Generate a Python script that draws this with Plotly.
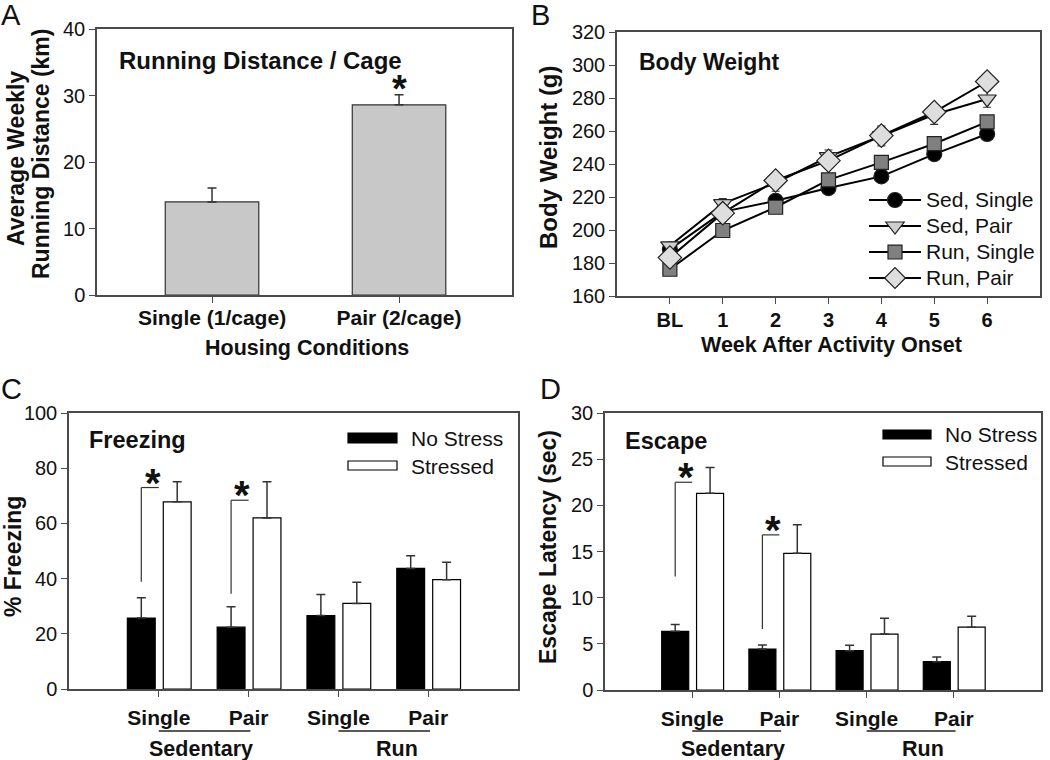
import plotly.graph_objects as go

W, H = 1050, 760
FONT = "Arial, Liberation Sans, Helvetica, sans-serif"

# ---------------- Panel A: running distance ----------------
housing = ["Single (1/cage)", "Pair (2/cage)"]
run_distance = [14.0, 28.6]
run_distance_err = [2.1, 1.5]

# ---------------- Panel B: body weight ----------------
week_labels = ["BL", "1", "2", "3", "4", "5", "6"]
sed_single = [188.3, 211.0, 217.7, 225.4, 232.5, 246.0, 258.2]
sed_single_err = [2, 2, 2, 2, 2, 2, 2]
sed_pair = [190.4, 216.0, 228.5, 244.5, 257.0, 270.0, 279.4]
sed_pair_err = [2, 3, 5, 4, 6, 6, 5]
run_single = [176.2, 199.7, 213.8, 230.4, 241.0, 252.3, 265.5]
run_single_err = [2, 2, 2, 2, 2, 2, 2]
run_pair = [183.3, 210.2, 230.0, 242.0, 257.2, 271.5, 290.0]
run_pair_err = [2, 2, 2, 3, 5, 3, 3]

# ---------------- Panel C / D: freezing & escape ----------------
group_labels = ["Single", "Pair", "Single", "Pair"]
freeze_nostress = [25.7, 22.4, 26.6, 43.7]
freeze_nostress_err = [7.4, 7.4, 7.6, 4.6]
freeze_stressed = [67.8, 62.0, 31.0, 39.6]
freeze_stressed_err = [7.3, 13.1, 7.7, 6.3]
escape_nostress = [6.35, 4.44, 4.26, 3.07]
escape_nostress_err = [0.75, 0.43, 0.6, 0.5]
escape_stressed = [21.3, 14.8, 6.06, 6.8]
escape_stressed_err = [2.8, 3.1, 1.7, 1.2]
# significance brackets: (category index, bracket bottom, bracket top)
freeze_sig = [(0, 38.9, 73.0), (1, 34.5, 68.4)]
escape_sig = [(0, 12.3, 22.5), (1, 6.6, 16.8)]


def px(x):
    return x / W


def py(y):
    return 1 - y / H


LINE = "#4a4a4a"
TXT = "#111111"


def axis(domain, rng, anchor, fsize=20, **kw):
    d = dict(domain=domain, range=rng, anchor=anchor, showline=True, mirror=True,
             linecolor=LINE, linewidth=1.5, ticks="outside", ticklen=6,
             tickcolor=LINE, tickwidth=1.2, showgrid=False, zeroline=False,
             tickfont=dict(family=FONT, size=fsize, color=TXT), fixedrange=True)
    d.update(kw)
    return d


fig = go.Figure()

# Panel A
fig.add_trace(go.Bar(
    x=list(range(len(housing))), y=run_distance, width=0.5,
    marker=dict(color="#c8c8c8", line=dict(color="#333333", width=1.2)),
    error_y=dict(type="data", array=run_distance_err, arrayminus=[0] * len(housing),
                 symmetric=False, color="#333333", thickness=1.5, width=4.5),
    xaxis="x", yaxis="y", showlegend=False))

# Panel B
b_series = [
    ("Sed, Single", sed_single, sed_single_err, "circle", 15, "#000000"),
    ("Sed, Pair", sed_pair, sed_pair_err, "triangle-down", 16, "#cfcfcf"),
    ("Run, Single", run_single, run_single_err, "square", 14, "#808080"),
    ("Run, Pair", run_pair, run_pair_err, "diamond", 18, "#dedede"),
]
for name, vals, errs, sym, size, col in b_series:
    fig.add_trace(go.Scatter(
        x=list(range(len(week_labels))), y=vals,
        name=f'<span style="font-size:21px">{name}</span>', mode="lines+markers",
        line=dict(color="#000000", width=2),
        marker=dict(symbol=sym, size=size, color=col, line=dict(color="#222222", width=1.2)),
        error_y=dict(type="data", array=errs, color="#333333", thickness=1.2, width=4),
        xaxis="x2", yaxis="y2", legend="legend2"))

# Panel C and D bars
for xa, ya, ns, nse, st, ste in [("x3", "y3", freeze_nostress, freeze_nostress_err,
                                  freeze_stressed, freeze_stressed_err),
                                 ("x4", "y4", escape_nostress, escape_nostress_err,
                                  escape_stressed, escape_stressed_err)]:
    n = len(group_labels)
    fig.add_trace(go.Bar(
        x=list(range(n)), y=ns, width=0.31, offset=-0.35, name="No Stress",
        marker=dict(color="#000000", line=dict(color="#000000", width=1.2)),
        error_y=dict(type="data", array=nse, arrayminus=[0] * n, symmetric=False,
                     color="#333333", thickness=1.5, width=4.5),
        xaxis=xa, yaxis=ya, showlegend=False))
    fig.add_trace(go.Bar(
        x=list(range(n)), y=st, width=0.31, offset=0.05, name="Stressed",
        marker=dict(color="#ffffff", line=dict(color="#000000", width=1.2)),
        error_y=dict(type="data", array=ste, arrayminus=[0] * n, symmetric=False,
                     color="#333333", thickness=1.5, width=4.5),
        xaxis=xa, yaxis=ya, showlegend=False))

shapes = []
annotations = []


def ann(text, x, y, size=21, bold=False, xanchor="center", angle=0, yanchor="middle", **kw):
    t = f"<b>{text}</b>" if bold else text
    annotations.append(dict(text=t, x=x, y=y, xref=kw.pop("xref", "paper"),
                            yref=kw.pop("yref", "paper"), showarrow=False,
                            xanchor=xanchor, yanchor=yanchor, textangle=angle,
                            font=dict(family=FONT, size=size, color=TXT), **kw))


# Panel letters
ann("A", px(11), 1.0, size=29, yanchor="top", yshift=3)
ann("B", px(540), 1.0, size=29, yanchor="top", yshift=3)
ann("C", px(11), py(389), size=29)
ann("D", px(550), py(389), size=29)

# Panel A texts
ann("Running Distance / Cage", px(117), py(60), size=24, bold=True, xanchor="left")
ann("Average Weekly", px(16), py(159), size=23, bold=True, angle=-90)
ann("Running Distance (km)", px(41), py(154), size=23, bold=True, angle=-90)
ann("Housing Conditions", px(307), py(348), size=21.5, bold=True)
ann("*", 1, run_distance[1] + run_distance_err[1], size=38, bold=True,
    xref="x", yref="y", yshift=6)

# Panel B texts
ann("Body Weight", px(637), py(62), bold=True, xanchor="left", size=23)
ann("Body Weight (g)", px(548), py(157), size=24, bold=True, angle=-90)
ann("Week After Activity Onset", px(831), py(345), size=21.5, bold=True)

# Panel C texts
ann("Freezing", px(87), py(440), size=23.5, bold=True, xanchor="left")
ann("% Freezing", px(13), py(557), size=23, bold=True, angle=-90)
# Panel D texts
ann("Escape", px(623), py(441), size=23.5, bold=True, xanchor="left")
ann("Escape Latency (sec)", px(548), py(547), size=23, bold=True, angle=-90)

# group labels under C and D
for xa in ["x3", "x4"]:
    for lo, hi, label, pos in [(0, 1, "Sedentary", 0.47), (2, 3, "Run", 2.65)]:
        shapes.append(dict(type="line", xref=xa, yref="paper", x0=lo, x1=hi + 0.02,
                           y0=py(731), y1=py(731), line=dict(color="#222222", width=1.3)))
        ann(label, pos, py(749), size=21.5, bold=True, xref=xa)

# significance brackets
for xa, ya, sig in [("x3", "y3", freeze_sig), ("x4", "y4", escape_sig)]:
    for cat, lo, hi in sig:
        xb = cat - 0.195
        shapes.append(dict(type="line", xref=xa, yref=ya, x0=xb, x1=xb, y0=lo, y1=hi,
                           line=dict(color="#333333", width=1.2)))
        shapes.append(dict(type="line", xref=xa, yref=ya, x0=xb, x1=cat, y0=hi, y1=hi,
                           line=dict(color="#333333", width=1.2)))
        ann("*", cat - 0.07, hi, size=40, bold=True, xref=xa, yref=ya, yshift=5)

# manual legends for C and D
for rx0, rx1, tx, ys in [(348, 397, 409, [(433, 443, 438), (461, 470, 466)]),
                         (883, 931, 943, [(430, 439, 434), (457, 466, 462)])]:
    for (y0, y1, yt), fill, label in zip(ys, ["#000000", "#ffffff"], ["No Stress", "Stressed"]):
        shapes.append(dict(type="rect", xref="paper", yref="paper", x0=px(rx0), x1=px(rx1),
                           y0=py(y1), y1=py(y0), fillcolor=fill,
                           line=dict(color="#000000", width=1.2)))
        ann(label, px(tx), py(yt), xanchor="left")

fig.update_layout(
    width=W, height=H, template="none",
    paper_bgcolor="white", plot_bgcolor="white",
    margin=dict(l=0, r=0, t=0, b=0),
    font=dict(family=FONT, color=TXT),
    showlegend=True,
    xaxis=axis([px(97), px(512)], [-0.615, 1.604], "y", fsize=21,
               tickvals=list(range(len(housing))),
               ticktext=[f"<b>{h}</b>" for h in housing], ticklabelstandoff=-3),
    yaxis=axis([py(295), py(29)], [0, 40], "x", tickvals=[0, 10, 20, 30, 40]),
    xaxis2=axis([px(617), px(1040)], [-1, 7], "y2", fsize=20,
                tickvals=list(range(len(week_labels))),
                ticktext=[f"<b>{w}</b>" for w in week_labels], ticklabelstandoff=-1),
    yaxis2=axis([py(296), py(32)], [160, 320], "x2", tickvals=list(range(160, 321, 20))),
    xaxis3=axis([px(69), px(518)], [-1, 4], "y3", fsize=21,
                tickvals=list(range(len(group_labels))),
                ticktext=[f"<b>{g}</b>" for g in group_labels], ticklabelstandoff=3),
    yaxis3=axis([py(689), py(413)], [0, 100], "x3", tickvals=list(range(0, 101, 20))),
    xaxis4=axis([px(605), px(1041)], [-1, 4], "y4", fsize=21,
                tickvals=list(range(len(group_labels))),
                ticktext=[f"<b>{g}</b>" for g in group_labels], ticklabelstandoff=3),
    yaxis4=axis([py(690), py(413)], [0, 30], "x4", tickvals=list(range(0, 31, 5))),
    legend2=dict(x=px(864), y=py(182), xanchor="left", yanchor="top",
                 bgcolor="rgba(0,0,0,0)", font=dict(family=FONT, size=17.7, color=TXT),
                 tracegroupgap=0, itemwidth=52),
    shapes=shapes, annotations=annotations,
)

fig.write_html("out.html", config={"displayModeBar": False},
               post_script="document.body.style.margin='0';")
